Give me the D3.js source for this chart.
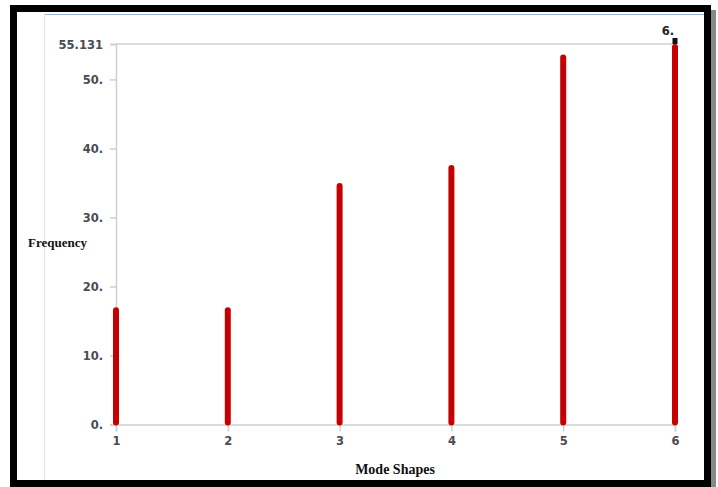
<!DOCTYPE html>
<html>
<head>
<meta charset="utf-8">
<script src="https://cdn.jsdelivr.net/npm/d3@7"></script>
<style>
  html, body { margin: 0; padding: 0; background: #fff; }
  svg { display: block; }
  .tick-label { font-family: "DejaVu Sans", sans-serif; font-size: 11.5px; font-weight: bold; fill: #4a4a55; }
  .axis-title { font-family: "Liberation Serif", serif; font-weight: bold; fill: #111; }
</style>
</head>
<body>
<div id="chart"></div>
<script>
// mode shape number vs. frequency
const modes = [1, 2, 3, 4, 5, 6];
const frequencies = [17.0, 17.0, 35.0, 37.6, 53.6, 55.131];
const yTicks = [0, 10, 20, 30, 40, 50, 55.131];
const yTickLabels = ["0.", "10.", "20.", "30.", "40.", "50.", "55.131"];

const W = 718, H = 487;
const margin = { top: 44, right: 43, bottom: 62.5, left: 116 };

const svg = d3.select("#chart").append("svg")
  .attr("width", W)
  .attr("height", H);

// outer black frame + a bit of shadow on the right
svg.append("rect")
  .attr("x", 711).attr("y", 10).attr("width", 5).attr("height", H - 10)
  .attr("fill", "#888");
svg.append("rect")
  .attr("x", 13.5).attr("y", 8.5)
  .attr("width", 694).attr("height", 475)
  .attr("fill", "#fff")
  .attr("stroke", "#000")
  .attr("stroke-width", 7);

// inner panel edges
svg.append("line").attr("x1", 44).attr("x2", 704).attr("y1", 14.5).attr("y2", 14.5)
  .attr("stroke", "#9db5d8").attr("stroke-width", 1);
svg.append("line").attr("x1", 44.5).attr("x2", 44.5).attr("y1", 14).attr("y2", 480)
  .attr("stroke", "#dbe4f0").attr("stroke-width", 1);

const x = d3.scaleLinear().domain([1, 6]).range([margin.left, W - margin.right]);
const y = d3.scaleLinear().domain([0, 55.131]).range([H - margin.bottom, margin.top]);

const grey = "#cfcfcf";

// top frame line
svg.append("line").attr("x1", x(1)).attr("x2", x(6)).attr("y1", y(55.131)).attr("y2", y(55.131))
  .attr("stroke", grey).attr("stroke-width", 1.5);

// y axis
const yAxis = svg.append("g")
  .attr("transform", `translate(${margin.left},0)`)
  .call(d3.axisLeft(y).tickValues(yTicks).tickSize(6).tickPadding(7)
    .tickFormat((d, i) => yTickLabels[i]));
yAxis.select(".domain").attr("stroke", grey).attr("stroke-width", 1.5);
yAxis.selectAll(".tick line").attr("stroke", grey).attr("stroke-width", 1.5);
yAxis.selectAll(".tick text").attr("class", "tick-label").attr("dy", "0.35em");

// x axis
const xAxis = svg.append("g")
  .attr("transform", `translate(0,${y(0)})`)
  .call(d3.axisBottom(x).tickValues(modes).tickSize(7).tickPadding(5).tickFormat(d3.format("d")));
xAxis.select(".domain").attr("stroke", grey).attr("stroke-width", 1.5);
xAxis.selectAll(".tick line").attr("stroke", grey).attr("stroke-width", 1.5);
xAxis.selectAll(".tick text").attr("class", "tick-label");

// stems; round caps add 3px so the line stops 3px short of the value
svg.selectAll(".stem")
  .data(modes)
  .join("line")
  .attr("class", "stem")
  .attr("x1", d => x(d)).attr("x2", d => x(d))
  .attr("y1", y(0) - 2)
  .attr("y2", (d, i) => y(frequencies[i]) + 3)
  .attr("stroke", "#c40000")
  .attr("stroke-width", 6)
  .attr("stroke-linecap", "round");

// selected point marker at mode 6
const last = modes.length - 1;
svg.append("rect")
  .attr("x", x(modes[last]) - 2.5).attr("y", y(frequencies[last]) - 6)
  .attr("width", 5).attr("height", 6)
  .attr("fill", "#111");
svg.append("text")
  .attr("class", "tick-label")
  .attr("x", x(modes[last]) - 1).attr("y", y(frequencies[last]) - 9)
  .attr("text-anchor", "end")
  .style("fill", "#222")
  .text("6.");

// axis titles
svg.append("text").attr("class", "axis-title")
  .attr("x", 28).attr("y", 247)
  .style("font-size", "13px")
  .text("Frequency");
svg.append("text").attr("class", "axis-title")
  .attr("x", 395).attr("y", 474)
  .attr("text-anchor", "middle")
  .style("font-size", "14px")
  .text("Mode Shapes");
</script>
</body>
</html>
